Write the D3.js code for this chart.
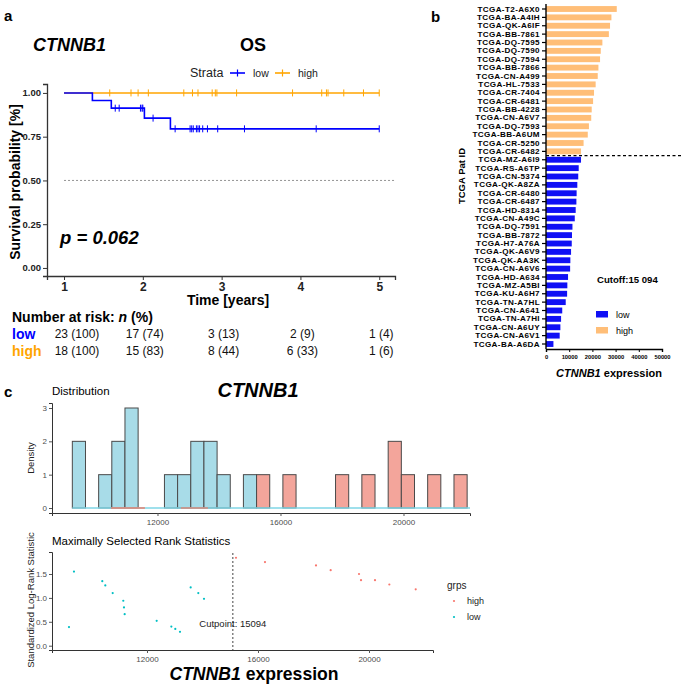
<!DOCTYPE html>
<html><head><meta charset="utf-8">
<script src="https://cdn.jsdelivr.net/npm/d3@7"></script>
<style>body{margin:0;background:#fff}svg{display:block;font-family:"Liberation Sans",Arial,sans-serif}</style>
</head><body><svg id="c" width="681" height="688"></svg>
<script>
// ---------- Panel a data (KM, OS) ----------
const kmTicks = [1, 2, 3, 4, 5];
const kmYTicks = [0, 0.25, 0.5, 0.75, 1];
const lowEventTimes = [1.36, 1.60, 2.02, 2.35];
const lowCensorTimes = [1.65, 1.70, 1.97, 1.99, 2.00, 2.13, 2.41, 2.60, 2.62, 2.64, 2.68, 2.70, 2.72, 2.76, 2.82, 2.95, 3.29, 4.20, 5.00];
const highEventTimes = [];
const highCensorTimes = [1.58, 1.85, 1.94, 2.07, 2.52, 2.63, 2.70, 2.88, 2.92, 2.94, 3.19, 3.90, 4.27, 4.33, 4.35, 4.55, 4.80, 5.00];
const riskLowN = [23, 17, 3, 2, 1];
const riskLowPct = [100, 74, 13, 9, 4];
const riskHighN = [18, 15, 8, 6, 1];
const riskHighPct = [100, 83, 44, 33, 6];
const pValueText = "p = 0.062";

// ---------- Panel b data ----------
const highIds = ["TCGA-T2-A6X0","TCGA-BA-A4IH","TCGA-QK-A6IF","TCGA-BB-7861","TCGA-DQ-7595","TCGA-DQ-7590","TCGA-DQ-7594","TCGA-BB-7866","TCGA-CN-A499","TCGA-HL-7533","TCGA-CR-7404","TCGA-CR-6481","TCGA-BB-4228","TCGA-CN-A6V7","TCGA-DQ-7593","TCGA-BB-A6UM","TCGA-CR-5250","TCGA-CR-6482"];
const highExpr = [30500, 28200, 27600, 27100, 24300, 23600, 23300, 22600, 22300, 21400, 20700, 20300, 19700, 19500, 18500, 18000, 16200, 15100];
const lowIds = ["TCGA-MZ-A6I9","TCGA-RS-A6TP","TCGA-CN-5374","TCGA-QK-A8ZA","TCGA-CR-6480","TCGA-CR-6487","TCGA-HD-8314","TCGA-CN-A49C","TCGA-DQ-7591","TCGA-BB-7872","TCGA-H7-A76A","TCGA-QK-A6V9","TCGA-QK-AA3K","TCGA-CN-A6V6","TCGA-HD-A634","TCGA-MZ-A5BI","TCGA-KU-A6H7","TCGA-TN-A7HL","TCGA-CN-A641","TCGA-TN-A7HI","TCGA-CN-A6UY","TCGA-CN-A6V1","TCGA-BA-A6DA"];
const lowExpr = [15094, 14100, 13900, 13500, 13200, 13100, 12800, 12400, 11400, 11200, 11100, 10800, 10500, 10400, 9500, 9200, 9100, 8500, 7000, 6500, 6200, 5900, 3200];
const barTicks = [0, 10000, 20000, 30000, 40000, 50000];

// ---------- Panel c data ----------
const binWidth = 428;
const lowBinStarts = [9230, 10086, 10514, 10942, 12226, 12654, 13082, 13510, 13938, 14794];
const lowBinCounts = [2, 1, 2, 3, 1, 1, 2, 2, 1, 1];
const highBinStarts = [15222, 16078, 17790, 18646, 19502, 19930, 20786, 21642];
const highBinCounts = [1, 1, 1, 1, 2, 1, 1, 1];
const highDensitySegs = [[10490, 11590], [12760, 13640]];
const histXTicks = [12000, 16000, 20000];
const histYTicks = [0, 1, 2, 3];
const lowCut = [9369, 9189, 10389, 10498, 10764, 11146, 11171, 11196, 12349, 12877, 13020, 13189, 13574, 13849, 14054];
const lowStat = [1.55, 0.39, 1.35, 1.26, 1.10, 0.94, 0.80, 0.66, 0.52, 0.40, 0.35, 0.29, 1.22, 1.10, 0.98];
const highCut = [15207, 16252, 18090, 18619, 19640, 19712, 20216, 20733, 21683];
const highStat = [1.84, 1.75, 1.68, 1.58, 1.50, 1.37, 1.37, 1.28, 1.18];
const statYTicks = [0, 0.5, 1.0, 1.5];
const cutpoint = 15094;

// ---------- helpers ----------
const svg = d3.select("#c");
const BLUE = "#0000ff", ORANGE = "#ffa500";
function T(g, x, y, s, o = {}) {
  return g.append("text").attr("x", x).attr("y", y)
    .attr("font-size", o.size || 12).attr("font-weight", o.w || "normal")
    .attr("font-style", o.i ? "italic" : "normal")
    .attr("text-anchor", o.a || "start").attr("dominant-baseline", "central")
    .attr("fill", o.c || "#000").attr("transform", o.rot ? `rotate(-90,${x},${y})` : null)
    .text(s);
}

// panel letters
T(svg, 4, 15, "a", {size: 15, w: "bold"});
T(svg, 431, 16, "b", {size: 15, w: "bold"});
T(svg, 4, 391, "c", {size: 15, w: "bold"});

// ================= Panel a =================
const gA = svg.append("g");
const xKM = d3.scaleLinear().domain([0.784, 5.2]).range([47, 395]);
const yKM = d3.scaleLinear().domain([-0.046, 1.051]).range([276, 84]);

T(gA, 33, 45, "CTNNB1", {size: 18, w: "bold", i: true});
T(gA, 253, 45, "OS", {size: 18, w: "bold", a: "middle"});
// legend
T(gA, 190, 73, "Strata", {size: 12.5, c: "#222"});
[[BLUE, 230, "low", 253], [ORANGE, 275, "high", 298]].forEach(([c, x0, lab, tx]) => {
  gA.append("line").attr("x1", x0).attr("x2", x0 + 15).attr("y1", 73).attr("y2", 73).attr("stroke", c).attr("stroke-width", 1.6);
  gA.append("line").attr("x1", x0 + 7.5).attr("x2", x0 + 7.5).attr("y1", 69.5).attr("y2", 76.5).attr("stroke", c).attr("stroke-width", 1.2);
  T(gA, tx, 73, lab, {size: 10.5, c: "#222"});
});

// axes
const axY = gA.append("g").attr("transform", "translate(47,0)")
  .call(d3.axisLeft(yKM).tickValues(kmYTicks).tickFormat(d3.format(".2f")).tickSize(4).tickPadding(2));
const axX = gA.append("g").attr("transform", "translate(0,276)")
  .call(d3.axisBottom(xKM).tickValues(kmTicks).tickFormat(d3.format("d")).tickSize(4).tickPadding(2));
[axY, axX].forEach(a => { a.select(".domain").attr("stroke", "#333").attr("stroke-width", 1.3); a.selectAll(".tick line").attr("stroke", "#333"); });
axY.selectAll("text").attr("font-size", 9.5).attr("font-weight", "bold").attr("fill", "#222").attr("font-family", "Liberation Sans");
axX.selectAll("text").attr("font-size", 12).attr("font-weight", "bold").attr("fill", "#222").attr("font-family", "Liberation Sans");
T(gA, 228, 300, "Time [years]", {size: 14, w: "bold", a: "middle"});
T(gA, 15, 182, "Survival probability [%]", {size: 14, w: "bold", a: "middle", rot: true});

// median line
gA.append("line").attr("x1", xKM(1)).attr("x2", xKM(5.2)).attr("y1", yKM(0.5)).attr("y2", yKM(0.5))
  .attr("stroke", "#777").attr("stroke-width", 0.8).attr("stroke-dasharray", "2,2");

function km(events, censors, start) {
  const all = events.map(t => ({t, e: 1})).concat(censors.map(t => ({t, e: 0}))).sort((a, b) => a.t - b.t || b.e - a.e);
  let n = all.length, S = 1; const pts = [[start, 1]], cens = [];
  all.forEach(d => { if (d.e) { S *= (n - 1) / n; pts.push([d.t, S]); } else cens.push([d.t, S]); n--; });
  pts.push([d3.max(all, d => d.t), S]);
  return {pts, cens};
}
const line = d3.line().x(d => xKM(d[0])).y(d => yKM(d[1])).curve(d3.curveStepAfter);
[[highEventTimes, highCensorTimes, ORANGE], [lowEventTimes, lowCensorTimes, BLUE]].forEach(([ev, ce, c]) => {
  const r = km(ev, ce, 1);
  gA.append("path").attr("d", line(r.pts)).attr("fill", "none").attr("stroke", c).attr("stroke-width", 1.6);
  gA.selectAll(null).data(r.cens).enter().append("line")
    .attr("x1", d => xKM(d[0])).attr("x2", d => xKM(d[0]))
    .attr("y1", d => yKM(d[1]) - 3.5).attr("y2", d => yKM(d[1]) + 3.5)
    .attr("stroke", c).attr("stroke-width", 1);
});
T(gA, 60, 237, pValueText, {size: 18.5, w: "bold", i: true});

// risk table
const nr = gA.append("text").attr("x", 12).attr("y", 317).attr("dominant-baseline", "central")
  .attr("font-size", 14).attr("font-weight", "bold");
nr.append("tspan").text("Number at risk: ");
nr.append("tspan").attr("font-style", "italic").text("n");
nr.append("tspan").text(" (%)");
T(gA, 12, 333.5, "low", {size: 14, w: "bold", c: BLUE});
T(gA, 12, 350.5, "high", {size: 14, w: "bold", c: ORANGE});
kmTicks.forEach((t, i) => {
  const cx = i === 0 ? xKM(t) + 13 : xKM(t) + 2;
  T(gA, cx, 333.5, `${riskLowN[i]} (${riskLowPct[i]})`, {size: 12, a: "middle", c: "#111"});
  T(gA, cx, 350.5, `${riskHighN[i]} (${riskHighPct[i]})`, {size: 12, a: "middle", c: "#111"});
});

// ================= Panel b =================
const gB = svg.append("g");
const ids = highIds.concat(lowIds);
const exprs = highExpr.concat(lowExpr);
const grp = highIds.map(() => "high").concat(lowIds.map(() => "low"));
const yB = d3.scaleBand().domain(ids).range([4.81, 348.19]).paddingInner(0.3).paddingOuter(0.15);
const xB = d3.scaleLinear().domain([0, 50000]).range([546, 662]);
gB.selectAll(null).data(ids).enter().append("rect")
  .attr("x", xB(0)).attr("y", d => yB(d)).attr("height", yB.bandwidth())
  .attr("width", (d, i) => xB(exprs[i]) - xB(0))
  .attr("fill", (d, i) => grp[i] === "high" ? "#ffbe78" : "#1010f5");
const bY = gB.append("g").attr("transform", "translate(546,0)").call(d3.axisLeft(yB).tickSize(4).tickPadding(2));
bY.select(".domain").attr("d", "M0,4V349").attr("stroke", "#000").attr("stroke-width", 1.4);
bY.selectAll(".tick line").attr("stroke", "#000").attr("stroke-width", 1.2);
bY.selectAll("text").attr("font-size", 8.1).attr("letter-spacing", 0.38).attr("font-weight", "bold").attr("fill", "#000").attr("font-family", "Liberation Sans");
const bX = gB.append("g").attr("transform", "translate(0,349)").call(d3.axisBottom(xB).tickValues(barTicks).tickFormat(d3.format("d")).tickSize(3).tickPadding(3));
bX.select(".domain").attr("stroke", "#000").attr("stroke-width", 1.4);
bX.selectAll(".tick line").attr("stroke", "#000");
bX.selectAll("text").attr("font-size", 5.8).attr("font-weight", "bold").attr("fill", "#000").attr("font-family", "Liberation Sans");
const yDiv = yB(lowIds[0]) - yB.step() * 0.15;
gB.append("line").attr("x1", 546).attr("x2", 681).attr("y1", yDiv).attr("y2", yDiv)
  .attr("stroke", "#000").attr("stroke-width", 1.2).attr("stroke-dasharray", "3,2.5");
T(gB, 461, 176, "TCGA Pat ID", {size: 9.5, w: "bold", a: "middle", rot: true});
const be = gB.append("text").attr("x", 609).attr("y", 373).attr("text-anchor", "middle").attr("dominant-baseline", "central")
  .attr("font-size", 11).attr("font-weight", "bold");
be.append("tspan").attr("font-style", "italic").text("CTNNB1");
be.append("tspan").text(" expression");
T(gB, 597, 279, "Cutoff:15 094", {size: 9.6, w: "bold"});
gB.append("rect").attr("x", 596).attr("y", 311).attr("width", 12).attr("height", 6.5).attr("fill", "#1010f5");
T(gB, 616, 314.5, "low", {size: 9});
gB.append("rect").attr("x", 596).attr("y", 327).attr("width", 12).attr("height", 6.5).attr("fill", "#ffbe78");
T(gB, 616, 330.5, "high", {size: 9});

// ================= Panel c: histogram =================
const gC = svg.append("g");
T(gC, 258, 390, "CTNNB1", {size: 20, w: "bold", i: true, a: "middle"});
T(gC, 52, 391, "Distribution", {size: 11.5});
const xH = d3.scaleLinear().domain([8569, 22163]).range([52, 470]);
const yH = d3.scaleLinear().domain([-0.15, 3.15]).range([513, 403]);
const hX = gC.append("g").attr("transform", "translate(0,513)").call(d3.axisBottom(xH).tickValues(histXTicks).tickFormat(d3.format("d")).tickSize(3).tickPadding(3));
const hY = gC.append("g").attr("transform", "translate(52,0)").call(d3.axisLeft(yH).tickValues(histYTicks).tickFormat(d3.format("d")).tickSize(3).tickPadding(2));
[hX, hY].forEach(a => {
  a.select(".domain").attr("stroke", "#333").attr("stroke-width", 1);
  a.selectAll(".tick line").attr("stroke", "#555");
  a.selectAll("text").attr("font-size", 8).attr("fill", "#4d4d4d").attr("font-family", "Liberation Sans");
});
T(gC, 30, 458, "Density", {size: 9.5, a: "middle", rot: true, c: "#222"});
function bars(starts, counts, fill) {
  gC.selectAll(null).data(starts).enter().append("rect")
    .attr("x", d => xH(d)).attr("width", d => xH(d + binWidth) - xH(d))
    .attr("y", (d, i) => yH(counts[i])).attr("height", (d, i) => yH(0) - yH(counts[i]))
    .attr("fill", fill).attr("stroke", "#4a4a4a").attr("stroke-width", 1);
}
bars(lowBinStarts, lowBinCounts, "#a8dce8");
bars(highBinStarts, highBinCounts, "#f3a59b");
gC.append("line").attr("x1", xH(lowBinStarts[0])).attr("x2", 470).attr("y1", yH(0)).attr("y2", yH(0))
  .attr("stroke", "#7fd6e6").attr("stroke-width", 1.3);
highDensitySegs.forEach(s => gC.append("line").attr("x1", xH(s[0])).attr("x2", xH(s[1])).attr("y1", yH(0)).attr("y2", yH(0))
  .attr("stroke", "#e8806f").attr("stroke-width", 1.3));

// ================= Panel c: maxstat =================
const gD = svg.append("g");
T(gD, 52, 541, "Maximally Selected Rank Statistics", {size: 11.5});
const xS = d3.scaleLinear().domain([8577, 22306]).range([52, 433]);
const yS = d3.scaleLinear().domain([-0.09, 1.96]).range([650, 552]);
const sX = gD.append("g").attr("transform", "translate(0,650)").call(d3.axisBottom(xS).tickValues(histXTicks).tickFormat(d3.format("d")).tickSize(3).tickPadding(3));
const sY = gD.append("g").attr("transform", "translate(52,0)").call(d3.axisLeft(yS).tickValues(statYTicks).tickFormat(d3.format(".1f")).tickSize(3).tickPadding(2));
[sX, sY].forEach(a => {
  a.select(".domain").attr("stroke", "#333").attr("stroke-width", 1);
  a.selectAll(".tick line").attr("stroke", "#555");
  a.selectAll("text").attr("font-size", 8).attr("fill", "#4d4d4d").attr("font-family", "Liberation Sans");
});
T(gD, 30, 600, "Standardized Log-Rank Statistic", {size: 9.5, a: "middle", rot: true, c: "#222"});
gD.append("line").attr("x1", xS(cutpoint)).attr("x2", xS(cutpoint)).attr("y1", 553).attr("y2", 650)
  .attr("stroke", "#444").attr("stroke-width", 1).attr("stroke-dasharray", "2,2");
T(gD, xS(cutpoint), 623, "Cutpoint: " + cutpoint, {size: 9.5, a: "middle", c: "#222"});
gD.selectAll(null).data(lowCut).enter().append("circle").attr("cx", d => xS(d)).attr("cy", (d, i) => yS(lowStat[i])).attr("r", 1.1).attr("fill", "#00bfc4");
gD.selectAll(null).data(highCut).enter().append("circle").attr("cx", d => xS(d)).attr("cy", (d, i) => yS(highStat[i])).attr("r", 1.1).attr("fill", "#f8766d");
T(gD, 447, 585, "grps", {size: 10, c: "#222"});
gD.append("circle").attr("cx", 454).attr("cy", 601).attr("r", 1.1).attr("fill", "#f8766d");
T(gD, 467, 601, "high", {size: 9, c: "#222"});
gD.append("circle").attr("cx", 454).attr("cy", 617).attr("r", 1.1).attr("fill", "#00bfc4");
T(gD, 467, 617, "low", {size: 9, c: "#222"});
const ce = gD.append("text").attr("x", 254).attr("y", 674).attr("text-anchor", "middle").attr("dominant-baseline", "central")
  .attr("font-size", 17.6).attr("font-weight", "bold");
ce.append("tspan").attr("font-style", "italic").text("CTNNB1");
ce.append("tspan").text(" expression");
</script></body></html>
